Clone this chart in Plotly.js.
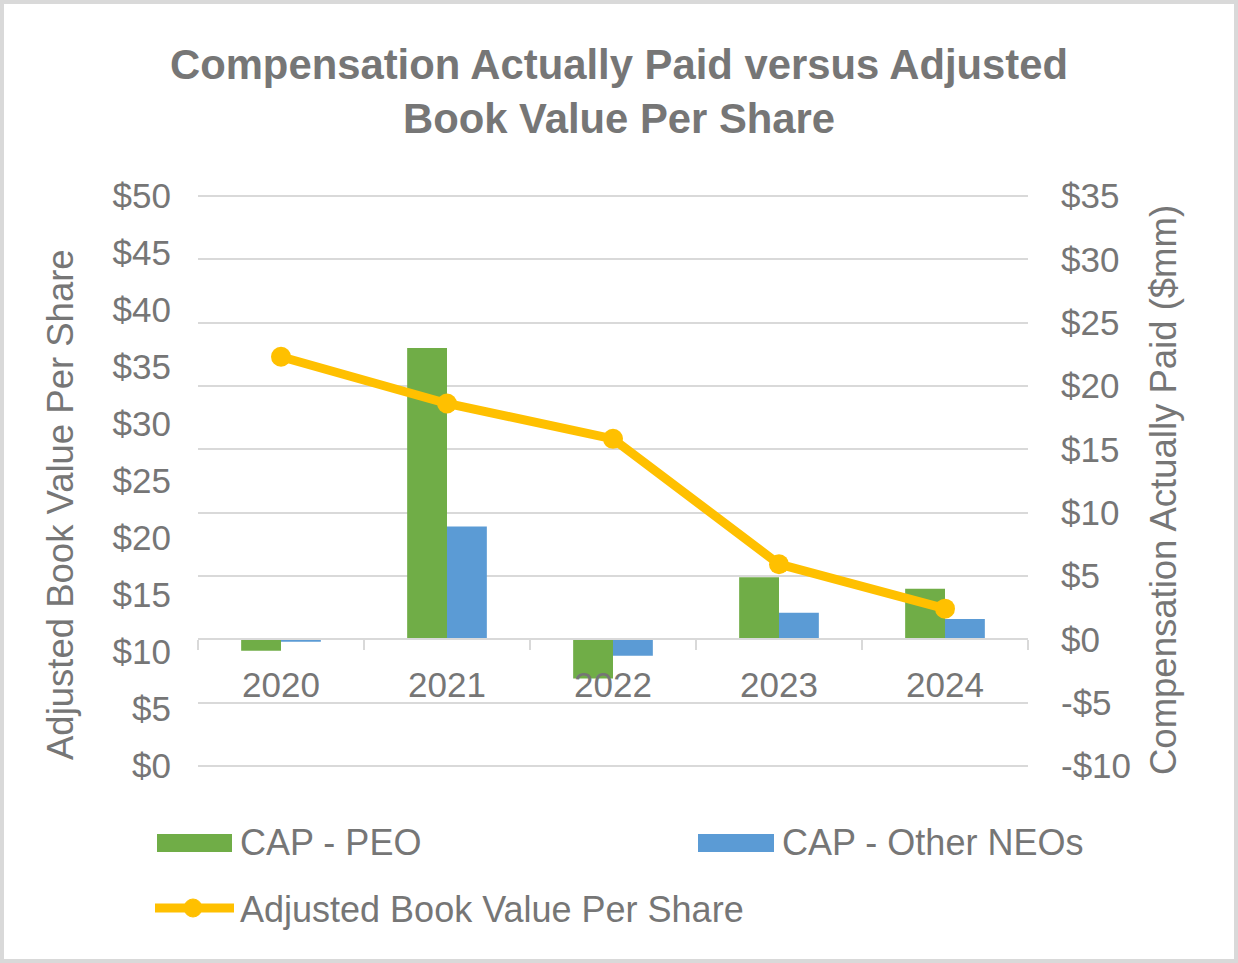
<!DOCTYPE html>
<html>
<head>
<meta charset="utf-8">
<script src="https://cdn.plot.ly/plotly-3.0.1.min.js"></script>
<style>html,body{margin:0;padding:0;background:#fff;}#chart{width:1238px;height:963px;}</style>
</head>
<body>
<div id="chart"></div>
<script>
// ---- data ----
const years = ['2020', '2021', '2022', '2023', '2024'];
const capPEO = [-0.9, 23.0, -3.1, 4.9, 4.0];
const capNEO = [-0.2, 8.9, -1.3, 2.1, 1.6];
const bookValue = [35.9, 31.8, 28.7, 17.7, 13.8];

const leftTickVals = [0, 5, 10, 15, 20, 25, 30, 35, 40, 45, 50];
const leftTickText = ['$0', '$5', '$10', '$15', '$20', '$25', '$30', '$35', '$40', '$45', '$50'];
const rightTickVals = [-10, -5, 0, 5, 10, 15, 20, 25, 30, 35];
const rightTickText = ['-$10', '-$5', '$0', '$5', '$10', '$15', '$20', '$25', '$30', '$35'];

const seriesNames = ['CAP - PEO', 'CAP - Other NEOs', 'Adjusted Book Value Per Share'];
const titleText = 'Compensation Actually Paid versus Adjusted<br>Book Value Per Share';
const leftTitle = 'Adjusted Book Value Per Share';
const rightTitle = 'Compensation Actually Paid ($mm)';

// ---- styling ----
const GREEN = '#70AD47', BLUE = '#5B9BD5', GOLD = '#FFC000';
const TXT = '#767676', GRID = '#d9d9d9';
const FONT = 'Arial, "Liberation Sans", sans-serif';
const W = 1238, H = 963, L = 198, R = 210, T = 196, B = 197;
const PW = W - L - R, PH = H - T - B;
const px = x => (x - L) / PW;
const py = y => (H - B - y) / PH;

// bars on the primary (right-side) CAP axis, line on the overlaid left axis so it draws on top
const traces = [
  {type: 'bar', name: seriesNames[0], x: years, y: capPEO, yaxis: 'y',
   marker: {color: GREEN}, showlegend: false},
  {type: 'bar', name: seriesNames[1], x: years, y: capNEO, yaxis: 'y',
   marker: {color: BLUE}, showlegend: false},
  {type: 'scatter', mode: 'lines+markers', name: seriesNames[2], x: years, y: bookValue, yaxis: 'y2',
   line: {color: GOLD, width: 9}, marker: {color: GOLD, size: 20}, showlegend: false}
];

const layout = {
  width: W, height: H,
  margin: {l: L, r: R, t: T, b: B},
  paper_bgcolor: '#ffffff', plot_bgcolor: 'rgba(0,0,0,0)',
  font: {family: FONT, color: TXT, size: 35},
  title: {text: titleText, font: {family: FONT, size: 41.8, color: TXT, weight: 'bold'},
          x: 0.5, xref: 'container', xanchor: 'center', y: 1 - 79 / H, yref: 'container', yanchor: 'middle'},
  barmode: 'group', bargap: 0.52, bargroupgap: 0,
  xaxis: {type: 'category', anchor: 'free', position: 10 / 45,
          showline: true, linecolor: GRID, linewidth: 2,
          ticks: 'outside', tickson: 'boundaries', ticklen: 10, tickwidth: 2, tickcolor: GRID,
          ticklabelstandoff: 15, showgrid: false, zeroline: false,
          tickfont: {size: 35, color: TXT, family: FONT}},
  yaxis: {range: [-10, 35], side: 'right', tickmode: 'array',
          tickvals: rightTickVals, ticktext: rightTickText,
          showgrid: true, gridcolor: GRID, gridwidth: 2, zeroline: false, showline: false, ticks: '',
          ticklabelstandoff: 32, tickfont: {size: 35, color: TXT, family: FONT}},
  yaxis2: {range: [0, 50], overlaying: 'y', side: 'left', tickmode: 'array',
           tickvals: leftTickVals, ticktext: leftTickText,
           showgrid: false, zeroline: false, showline: false, ticks: '',
           ticklabelstandoff: 26, tickfont: {size: 35, color: TXT, family: FONT}},
  annotations: [
    {text: leftTitle, textangle: -90, xref: 'paper', yref: 'paper', x: px(60), y: py(505),
     xanchor: 'center', yanchor: 'middle', showarrow: false, font: {size: 36.5, color: TXT, family: FONT}},
    {text: rightTitle, textangle: -90, xref: 'paper', yref: 'paper', x: px(1163), y: py(490),
     xanchor: 'center', yanchor: 'middle', showarrow: false, font: {size: 36.5, color: TXT, family: FONT}},
    {text: seriesNames[0], xref: 'paper', yref: 'paper', x: px(238), y: py(842),
     xanchor: 'left', yanchor: 'middle', showarrow: false, font: {size: 36, color: TXT, family: FONT}},
    {text: seriesNames[1], xref: 'paper', yref: 'paper', x: px(780), y: py(842),
     xanchor: 'left', yanchor: 'middle', showarrow: false, font: {size: 36, color: TXT, family: FONT}},
    {text: seriesNames[2], xref: 'paper', yref: 'paper', x: px(238), y: py(909),
     xanchor: 'left', yanchor: 'middle', showarrow: false, font: {size: 36, color: TXT, family: FONT}}
  ],
  shapes: [
    // outer-most gridlines at the range edges
    {type: 'line', xref: 'paper', yref: 'paper', x0: 0, x1: 1, y0: 1, y1: 1,
     line: {color: GRID, width: 2}, layer: 'below'},
    {type: 'line', xref: 'paper', yref: 'paper', x0: 0, x1: 1, y0: 0, y1: 0,
     line: {color: GRID, width: 2}, layer: 'below'},
    // custom legend swatches
    {type: 'rect', xref: 'paper', yref: 'paper', x0: px(157), x1: px(232), y0: py(852), y1: py(834),
     fillcolor: GREEN, line: {width: 0}},
    {type: 'rect', xref: 'paper', yref: 'paper', x0: px(698), x1: px(774), y0: py(852), y1: py(834),
     fillcolor: BLUE, line: {width: 0}},
    {type: 'line', xref: 'paper', yref: 'paper', x0: px(155), x1: px(234), y0: py(908), y1: py(908),
     line: {color: GOLD, width: 9}},
    {type: 'circle', xref: 'paper', yref: 'paper', x0: px(184), x1: px(202), y0: py(899), y1: py(917),
     fillcolor: GOLD, line: {color: GOLD, width: 1}},
    // chart border
    {type: 'rect', xref: 'paper', yref: 'paper', x0: px(2), x1: px(1236), y0: py(2), y1: py(961),
     fillcolor: 'rgba(0,0,0,0)', line: {color: GRID, width: 4}, layer: 'below'}
  ]
};

Plotly.newPlot('chart', traces, layout, {displayModeBar: false, staticPlot: true});
</script>
</body>
</html>
